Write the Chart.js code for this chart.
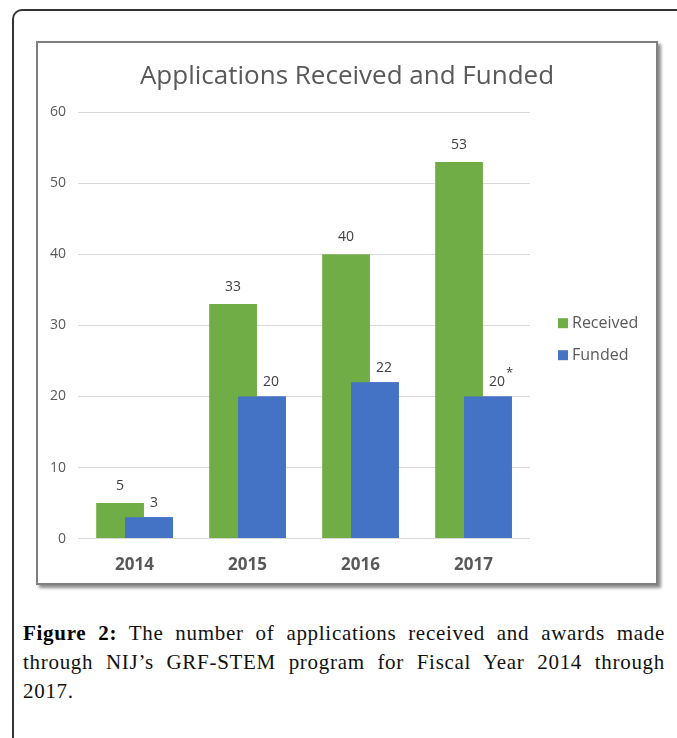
<!DOCTYPE html>
<html>
<head>
<meta charset="utf-8">
<script src="https://cdn.jsdelivr.net/npm/chart.js@4.4.0/dist/chart.umd.min.js"></script>
<style>
  body { margin: 0; background: #fff; width: 677px; height: 738px; overflow: hidden; position: relative; }
  .frame { position: absolute; left: 12px; top: 9px; width: 720px; height: 800px;
           border-top: 2px solid #333; border-left: 2px solid #333; border-top-left-radius: 10px; }
  .box { position: absolute; left: 36px; top: 41px; width: 622px; height: 544px; box-sizing: border-box;
         border: 2px solid #7f7f7f; box-shadow: 3px 3px 3px rgba(0,0,0,0.45); background: #fff; }
  #wrap { position: absolute; left: 38px; top: 43px; width: 618px; height: 548px; }
  .caption { position: absolute; left: 23px; top: 619px; width: 642px; font-family: "Liberation Serif", serif;
             font-size: 21px; line-height: 29px; color: #111; letter-spacing: 0.7px; }
  .caption div { text-align: justify; text-align-last: justify; white-space: nowrap; }
  .caption div.ultima { text-align-last: left; }
  .caption b { color: #000; }
</style>
</head>
<body>
<div class="frame"></div>
<div class="box"></div>
<div id="wrap"><canvas id="grafico"></canvas></div>
<div class="caption">
  <div><b>Figure 2:</b> The number of applications received and awards made</div>
  <div>through NIJ’s GRF-STEM program for Fiscal Year 2014 through</div>
  <div class="ultima">2017.</div>
</div>

<script>
// dados
const anos = ['2014', '2015', '2016', '2017']
const recebidas = [5, 33, 40, 53]
const financiadas = [3, 20, 22, 20]
const notasFinanciadas = ['', '', '', '*']

const verde = '#70ad47'
const azul = '#4472c4'

// barras azuis por cima das verdes + rotulos
const rotulos = {
    id: 'rotulos',
    afterDatasetsDraw(chart) {
        const ctx = chart.ctx
        chart.getDatasetMeta(1).data.forEach(bar => bar.draw(ctx))

        ctx.save()
        ctx.font = '14px "Open Sans"'
        ctx.fillStyle = '#404040'
        ctx.textBaseline = 'middle'
        chart.getDatasetMeta(0).data.forEach((bar, i) => {
            ctx.textAlign = 'center'
            ctx.fillText(recebidas[i], bar.x, bar.y - 17)
        })
        chart.getDatasetMeta(1).data.forEach((bar, i) => {
            ctx.textAlign = 'left'
            ctx.fillText(financiadas[i], bar.x + 1, bar.y - 14)
            if (notasFinanciadas[i]) {
                const w = ctx.measureText(String(financiadas[i])).width
                ctx.font = '13px "Open Sans"'
                ctx.fillText(notasFinanciadas[i], bar.x + 2 + w, bar.y - 23)
                ctx.font = '14px "Open Sans"'
            }
        })
        ctx.restore()
    }
}

// legenda na direita
const legenda = {
    id: 'legenda',
    afterDraw(chart) {
        const ctx = chart.ctx
        const area = chart.chartArea
        const x = area.right + 28
        ctx.save()
        ctx.font = '16px "Open Sans"'
        ctx.textBaseline = 'middle'
        ctx.textAlign = 'left'
        chart.data.datasets.forEach((ds, i) => {
            const y = area.top + 211 + i * 32
            ctx.fillStyle = ds.backgroundColor
            ctx.fillRect(x, y - 5, 10, 10)
            ctx.fillStyle = '#595959'
            ctx.fillText(ds.label, x + 14, y)
        })
        ctx.restore()
    }
}

const grafico = new Chart(document.getElementById('grafico'), {
    type: 'bar',
    data: {
        labels: anos,
        datasets: [
            { label: 'Received', data: recebidas, backgroundColor: verde },
            { label: 'Funded', data: financiadas, backgroundColor: azul }
        ]
    },
    options: {
        responsive: true,
        maintainAspectRatio: false,
        animation: false,
        categoryPercentage: 0.511,
        barPercentage: 1.655,
        layout: { padding: { left: 0, right: 0, top: 0, bottom: 0 } },
        plugins: {
            legend: { display: false },
            tooltip: { enabled: false },
            title: {
                display: true,
                text: 'Applications Received and Funded',
                color: '#595959',
                font: { family: 'Open Sans', size: 26, weight: 'normal' },
                padding: { top: 18, bottom: 20 }
            }
        },
        scales: {
            x: {
                grid: { display: false, drawTicks: false },
                border: { display: false },
                ticks: { color: '#595959', font: { family: 'Open Sans', size: 17, weight: 'bold' }, padding: 16 }
            },
            y: {
                min: 0,
                max: 60,
                ticks: { stepSize: 10, color: '#595959', font: { family: 'Open Sans', size: 14 }, padding: 12 },
                grid: { color: '#d9d9d9', drawTicks: false },
                border: { display: false }
            },
            // espaco reservado para a legenda
            espaco: {
                type: 'linear',
                position: 'right',
                display: true,
                grid: { display: false },
                border: { display: false },
                ticks: { display: false },
                afterFit(scale) { scale.width = 126 }
            }
        }
    },
    plugins: [rotulos, legenda]
})
</script>
</body>
</html>
